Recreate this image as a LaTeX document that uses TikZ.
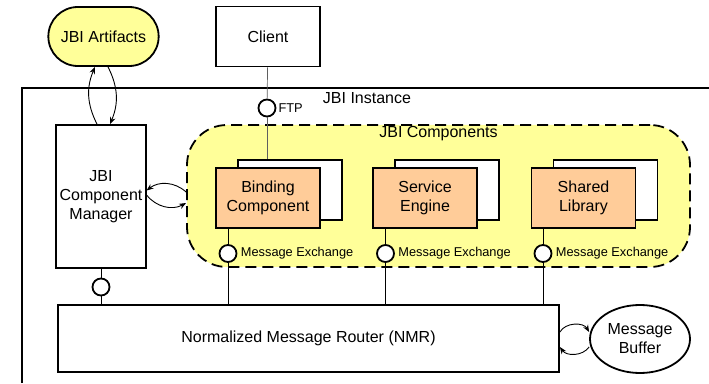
\documentclass[tikz,border=0pt]{standalone}
\usepackage{fontspec}
\setmainfont{Liberation Sans}
\usepackage{tikz}
\usetikzlibrary{arrows,arrows.meta,shapes,positioning}

\definecolor{jbiyellow}{RGB}{255,255,153}
\definecolor{jbiorange}{RGB}{255,204,153}
\definecolor{wiregray}{RGB}{95,95,95}
\newcommand{\jbibig}{\fontsize{16}{19}\selectfont}
\newcommand{\jbismall}{\fontsize{12.8}{14}\selectfont}

\begin{document}
\begin{tikzpicture}[
	box/.style={draw=black,line width=1.8pt,fill=white,minimum width=104pt,minimum height=60pt,align=center,font=\jbibig},
	comp/.style={box,fill=jbiorange},
	port/.style={draw=black,line width=1.8pt,fill=white,circle,inner sep=0pt,minimum size=17pt},
	wire/.style={draw=black,line width=0.7pt},
	flow/.style={draw=black,line width=0.9pt,-{Stealth[length=7pt,width=5.5pt]}},
	]
	\useasboundingbox (0pt,0pt) rectangle (709pt,383pt);

	% instance frame
	\draw[line width=1.8pt] (22pt,0pt) -- (22pt,295pt) -- (709pt,295pt);
	\node[font=\jbibig] (inst) at (367pt,285pt){JBI Instance};

	% components area
	\node[draw=black,line width=1.8pt,dash pattern=on 11pt off 6pt,fill=jbiyellow,rounded corners=40pt,minimum width=503pt,minimum height=142pt] (comps) at (438.5pt,187pt){};
	\node[font=\jbibig] (compslbl) at (438.5pt,249.5pt){JBI Components};

	% outside
	\node[box,rounded rectangle,fill=jbiyellow,minimum width=117pt,minimum height=59pt] (art) at (103.5pt,346.5pt){JBI Artifacts};
	\node[box] (client) at (268pt,346.5pt){Client};
	\node[port] (ftp) at (267pt,275pt){};
	\node[anchor=west,font=\jbismall,inner sep=2pt] (ftplbl) at (ftp.east){FTP};

	% component boxes
	\node[box] (bcback) at (290pt,193pt){};
	\node[comp] (bc) at (268pt,185pt){Binding\\Component};
	\node[box] (seback) at (447pt,193pt){};
	\node[comp] (se) at (425pt,185pt){Service\\Engine};
	\node[box] (slback) at (605.5pt,193pt){};
	\node[comp] (sl) at (583.5pt,185pt){Shared\\Library};

	\node[box,minimum width=86pt,minimum height=143pt] (mgr) at (101pt,186.5pt){JBI\\Component\\Manager};
	\node[box,minimum width=501pt,minimum height=67pt] (nmr) at (308.5pt,44.5pt){Normalized Message Router (NMR)};
	\node[box,ellipse,inner sep=0pt,minimum width=100pt,minimum height=68pt] (buf) at (640pt,44pt){Message\\Buffer};

	% ports
	\node[port] (mgrport) at (101pt,96pt){};
	\node[port] (mx1) at (228pt,129.5pt){};
	\node[port] (mx2) at (385.5pt,129.5pt){};
	\node[port] (mx3) at (543pt,129.5pt){};
	\node[anchor=west,font=\jbismall] (mx1lbl) at (mx1.east){Message Exchange};
	\node[anchor=west,font=\jbismall] (mx2lbl) at (mx2.east){Message Exchange};
	\node[anchor=west,font=\jbismall] (mx3lbl) at (mx3.east){Message Exchange};

	% wires
	\draw[wire,draw=wiregray] (client) -- (ftp);
	\draw[wire,draw=wiregray] (ftp) -- (ftp |- bcback.north);
	\draw[wire] (mgr) -- (mgrport);
	\draw[wire] (mgrport) -- (mgrport |- nmr.north);
	\draw[wire] (bc.south -| mx1) -- (mx1);
	\draw[wire] (mx1) -- (mx1 |- nmr.north);
	\draw[wire] (se.south -| mx2) -- (mx2);
	\draw[wire] (mx2) -- (mx2 |- nmr.north);
	\draw[wire] (sl.south -| mx3) -- (mx3);
	\draw[wire] (mx3) -- (mx3 |- nmr.north);

	% exchanges
	\draw[flow] ([xshift=-4pt]mgr.north) to[bend left=25] ([xshift=-8.5pt]art.south);
	\draw[flow] ([xshift=4.5pt]art.south) to[bend left=25] ([xshift=9pt]mgr.north);
	\draw[flow] ([yshift=4pt]comps.west) to[bend right=40] ([yshift=6pt]mgr.east);
	\draw[flow] ([yshift=1.5pt]mgr.east) to[bend right=40] ([yshift=-7pt]comps.west);
	\draw[flow] ([yshift=6.5pt]nmr.east) to[bend left=60] ([yshift=7pt]buf.west);
	\draw[flow] ([yshift=-8pt]buf.west) to[bend left=55] ([yshift=-8.5pt]nmr.east);
\end{tikzpicture}
\end{document}
